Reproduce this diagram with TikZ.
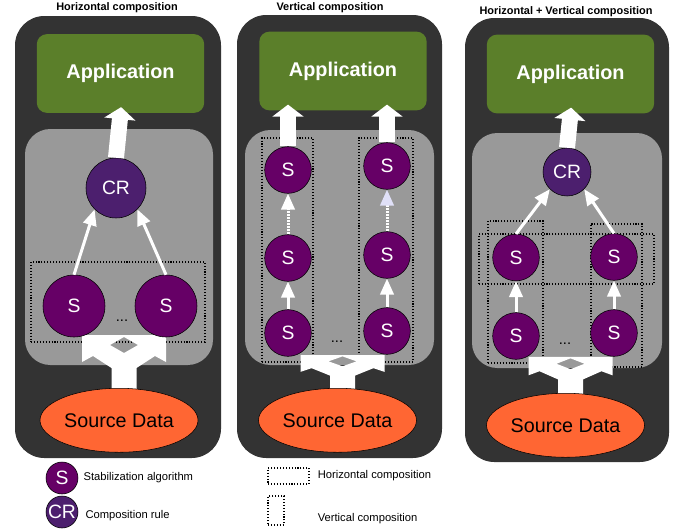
\documentclass[tikz,border=0pt]{standalone}
\usepackage{fontspec}
\setmainfont{Liberation Sans}
\usetikzlibrary{arrows.meta}
\usetikzlibrary{positioning}
\usetikzlibrary{shapes.geometric}
\usetikzlibrary{fit}

\definecolor{framegray}{HTML}{333333}
\definecolor{innergray}{HTML}{999999}
\definecolor{appgreen}{HTML}{5B7F2A}
\definecolor{algpurple}{HTML}{660066}
\definecolor{rulepurple}{HTML}{4C1F6E}
\definecolor{srcorange}{HTML}{FF6633}
\definecolor{lavhead}{HTML}{E0E0F8}

% white split arrow from the source data up to the algorithms
\newcommand\fork[2]{%
  \fill[white, even odd rule, shift={(#1)}, yscale=#2]
    (-42,-53) -- (42,-53) -- (42,-26) -- (31,-32) -- (12.5,-20) -- (12.5,4)
    -- (-12.5,4) -- (-12.5,-20) -- (-31,-32) -- (-42,-26) -- cycle
    (-14,-43) -- (0,-51) -- (14,-43) -- (0,-35) -- cycle;}

\begin{document}
\begin{tikzpicture}[x=0.75pt, y=-0.75pt]
      \tikzset{
        >={Triangle[width=10pt,length=12pt]},
        paneltitle/.style={font=\bfseries\fontsize{8.2}{10}\selectfont},
        framebox/.style={fill=framegray, rounded corners=22pt},
        groundbox/.style={fill=innergray, rounded corners=19pt},
        app/.style={rectangle, fill=appgreen, rounded corners=7.5pt, text=white,
          font=\bfseries\fontsize{14.9}{18}\selectfont,
          minimum width=125.5pt, minimum height=59pt},
        alg/.style={circle, draw=black, fill=algpurple, text=white, inner sep=0pt,
          font=\fontsize{14.5}{17}\selectfont},
        crule/.style={alg, fill=rulepurple},
        src/.style={ellipse, draw=black, fill=srcorange, inner sep=0pt,
          minimum width=118.5pt, minimum height=48pt,
          font=\fontsize{14.8}{18}\selectfont},
        group/.style={draw=black, line width=0.8pt, dash pattern=on 0.8pt off 1.4pt,
          inner sep=0pt},
        bigarrow/.style={-{Triangle[width=23pt,length=9pt]}, white, line width=12pt,
          shorten >=-4.5pt},
        flow/.style={->, white, line width=2.25pt},
        dotflow/.style={flow, dash pattern=on 1.5pt off 0.8pt},
        etc/.style={font=\fontsize{11}{12}\selectfont},
        legtext/.style={font=\fontsize{8.4}{10}\selectfont, inner sep=0pt},
      }
      \useasboundingbox (0,0) rectangle (677,529);

      % Horizontal composition
      \fill[framebox] (15,16) rectangle (221,458);
      \node[paneltitle] (t1) at (117,8) {Horizontal composition};
      \node[app] (app1) at (120.5,73.5) {Application};
      \fill[groundbox] (25,129) rectangle (213,365);
      \node[group, fit={(31,262) (205,342)}] (h1) {};
      \coordinate (fk1) at (124,388);
      \fork{fk1}{1}
      \node[crule, minimum size=45pt] (cr1) at (116,188) {CR};
      \node[alg, minimum size=46.5pt] (s1a) at (74,306) {S};
      \node[alg, minimum size=46.5pt] (s1b) at (166,306) {S};
      \node[etc] (d1) at (122,321) {...};
      \node[src, below=0pt of fk1, xshift=-3.75pt] (src1) {Source Data};
      \draw[bigarrow] (cr1.north) -- (app1.south);
      \draw[flow] (s1a.north) -- (cr1.225);
      \draw[flow] (s1b.north) -- (cr1.315);

      % Vertical composition
      \fill[framebox] (237,15) rectangle (442,458);
      \node[paneltitle] (t2) at (330,8) {Vertical composition};
      \node[app] (app2) at (343,71) {Application};
      \fill[groundbox] (245,130) rectangle (434,365);
      \node[group, fit={(262,138) (313,362)}] (v2a) {};
      \node[group, fit={(359,138) (413,362)}] (v2b) {};
      \coordinate (fk2) at (342.5,388);
      \fork{fk2}{0.62}
      \node[alg, minimum size=35pt] (s2a3) at (288,170) {S};
      \node[alg, minimum size=35pt] (s2a2) at (288,258) {S};
      \node[alg, minimum size=35pt] (s2a1) at (288,333) {S};
      \node[alg, minimum size=35pt] (s2b3) at (387,166) {S};
      \node[alg, minimum size=35pt] (s2b2) at (387,255) {S};
      \node[alg, minimum size=35pt] (s2b1) at (387,331) {S};
      \node[etc] (d2) at (337,342) {...};
      \node[src, below=0pt of fk2, xshift=-3.75pt] (src2) {Source Data};
      \draw[bigarrow] (s2a3.north) -- (s2a3.north |- app2.south);
      \draw[bigarrow] (s2b3.north) -- (s2b3.north |- app2.south);
      \draw[dotflow] (s2a2.north) -- (s2a3.south);
      \draw[dotflow, -{Triangle[width=10pt,length=12pt,color=lavhead]}] (s2b2.north) -- (s2b3.south);
      \draw[flow] (s2a1.north) -- (s2a2.south);
      \draw[flow] (s2b1.north) -- (s2b2.south);

      % Horizontal + Vertical composition
      \fill[framebox] (465,18) rectangle (669,462);
      \node[paneltitle] (t3) at (566,11.5) {Horizontal + Vertical composition};
      \node[app] (app3) at (570.5,74) {Application};
      \fill[groundbox] (472,133) rectangle (662,368);
      \node[group, fit={(479,234) (654,284)}] (h3) {};
      \node[group, fit={(488,221) (543,363)}] (v3a) {};
      \node[group, fit={(591,224) (642,367)}] (v3b) {};
      \coordinate (fk3) at (570.5,393);
      \fork{fk3}{0.68}
      \node[crule, minimum size=36pt] (cr3) at (567,172) {CR};
      \node[alg, minimum size=35pt] (s3a2) at (516,257.5) {S};
      \node[alg, minimum size=35pt] (s3b2) at (614,257) {S};
      \node[alg, minimum size=35pt] (s3a1) at (516,336) {S};
      \node[alg, minimum size=35pt] (s3b1) at (614,333) {S};
      \node[etc] (d3) at (565,344) {...};
      \node[src, below=0pt of fk3, xshift=-3.75pt] (src3) {Source Data};
      \draw[bigarrow] (cr3.north) -- (app3.south);
      \draw[flow] (s3a2.north) -- (cr3.225);
      \draw[flow] (s3b2.north) -- (cr3.315);
      \draw[flow] (s3a1.north) -- (s3a2.south);
      \draw[flow] (s3b1.north) -- (s3b2.south);

      % legend
      \node[alg, minimum size=24pt] (lgs) at (62,478) {S};
      \node[legtext, right=3.75pt of lgs] (lgst) {Stabilization algorithm};
      \node[crule, minimum size=24pt] (lgc) at (62,512) {CR};
      \node[legtext, right=5.25pt of lgc, yshift=-3pt] (lgct) {Composition rule};
      \node[group, minimum width=30.75pt, minimum height=12pt] (lgh) at (288.5,476) {};
      \node[legtext, right=6pt of lgh] (lght) {Horizontal composition};
      \node[group, minimum width=12pt, minimum height=21.75pt] (lgv) at (276,510.5) {};
      \node[legtext, right=24.75pt of lgv, yshift=-6.4pt] (lgvt) {Vertical composition};
\end{tikzpicture}
\end{document}
